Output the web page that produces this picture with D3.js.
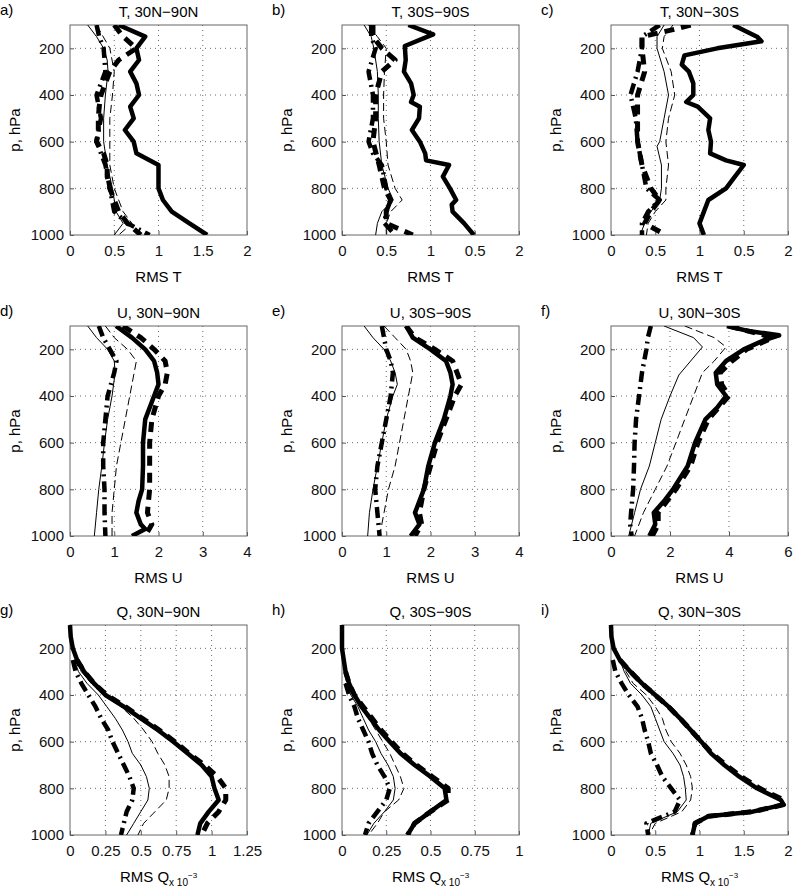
<!DOCTYPE html>
<html><head><meta charset="utf-8">
<script src="https://cdn.jsdelivr.net/npm/d3@7"></script>
<style>body{margin:0;background:#fff}svg{font-family:"Liberation Sans",Arial,sans-serif}</style>
</head><body><svg id="chart" width="797" height="890"></svg>
<script>
// pressure ticks shared by all panels
const pTicks = [200, 400, 600, 800, 1000];

// panel a: T, 30N-90N  (each series: [p, rms])
const aSolid = [[100,0.55],[150,0.85],[200,0.75],[250,0.78],[300,0.68],[350,0.75],[400,0.78],[450,0.68],[500,0.72],[550,0.62],[600,0.72],[650,0.75],[700,1.0],[750,1.0],[800,1.0],[850,1.05],[900,1.15],[950,1.35],[1000,1.55]];
const aDash = [[100,0.5],[150,0.6],[200,0.75],[250,0.55],[300,0.45],[350,0.4],[400,0.35],[450,0.33],[500,0.32],[550,0.32],[600,0.3],[650,0.38],[700,0.42],[750,0.42],[800,0.45],[850,0.5],[900,0.55],[950,0.65],[1000,0.8]];
const aDot = [[100,0.3],[150,0.33],[200,0.38],[300,0.4],[400,0.3],[500,0.35],[600,0.3],[700,0.4],[800,0.45],[900,0.5],[950,0.65],[1000,0.9]];
const aThin = [[100,0.2],[150,0.3],[200,0.38],[250,0.42],[300,0.43],[400,0.4],[500,0.38],[600,0.38],[700,0.42],[800,0.48],[900,0.52],[950,0.6],[1000,0.5]];
const aThinDash = [[100,0.3],[200,0.45],[300,0.5],[400,0.48],[500,0.45],[600,0.45],[700,0.45],[800,0.5],[900,0.6],[950,0.7],[1000,0.55]];

// panel b: T, 30S-90S
const bSolid = [[100,0.75],[140,1.03],[190,0.71],[250,0.72],[300,0.7],[350,0.78],[400,0.81],[430,0.78],[450,0.88],[500,0.87],[550,0.79],[600,0.88],[650,0.94],[680,0.95],[700,1.21],[750,1.14],[800,1.22],[850,1.29],[870,1.24],[900,1.25],[950,1.38],[1000,1.49]];
const bDash = [[100,0.35],[150,0.35],[200,0.45],[250,0.6],[300,0.45],[400,0.38],[500,0.38],[600,0.35],[700,0.42],[800,0.48],[850,0.55],[900,0.5],[950,0.5],[1000,0.8]];
const bDot = [[100,0.33],[150,0.33],[200,0.38],[300,0.3],[400,0.35],[500,0.35],[600,0.3],[650,0.35],[700,0.45],[800,0.5],[850,0.55],[900,0.5],[950,0.48],[1000,0.6]];
const bThin = [[100,0.25],[150,0.33],[200,0.36],[300,0.4],[400,0.41],[500,0.41],[600,0.42],[700,0.45],[800,0.52],[850,0.58],[900,0.45],[950,0.4],[1000,0.38]];
const bThinDash = [[100,0.3],[150,0.4],[200,0.5],[300,0.48],[400,0.47],[500,0.47],[600,0.5],[700,0.52],[800,0.6],[850,0.68],[900,0.55],[950,0.5],[1000,0.5]];

// panel c: T, 30N-30S
const cSolid = [[100,1.38],[150,1.65],[170,1.7],[200,1.2],[230,0.83],[270,0.8],[300,0.88],[350,0.93],[400,0.93],[430,0.85],[450,0.98],[500,1.12],[550,1.1],[600,1.13],[650,1.12],[680,1.3],[700,1.5],[750,1.4],[800,1.3],[850,1.1],[900,1.05],[950,1.0],[1000,1.05]];
const cDash = [[100,0.9],[120,0.7],[150,0.35],[200,0.35],[300,0.38],[400,0.3],[500,0.3],[600,0.3],[700,0.35],[800,0.45],[850,0.55],[900,0.45],[950,0.38],[1000,0.62]];
const cDot = [[100,0.55],[150,0.35],[200,0.35],[300,0.3],[400,0.22],[500,0.28],[600,0.3],[700,0.35],[800,0.4],[850,0.55],[900,0.42],[950,0.35],[1000,0.35]];
const cThin = [[100,0.6],[150,0.52],[200,0.52],[300,0.6],[400,0.65],[500,0.6],[600,0.55],[620,0.52],[700,0.57],[800,0.57],[850,0.55],[900,0.45],[950,0.38],[1000,0.33]];
const cThinDash = [[100,0.7],[150,0.6],[200,0.58],[300,0.68],[400,0.72],[500,0.65],[600,0.62],[700,0.65],[800,0.62],[850,0.62],[900,0.5],[950,0.42],[1000,0.4]];

// panel d: U, 30N-90N
const dSolid = [[100,1.04],[150,1.4],[200,1.7],[250,1.9],[300,1.97],[350,2.0],[400,1.9],[500,1.7],[600,1.65],[700,1.65],[800,1.63],[850,1.55],[900,1.5],[950,1.6],[970,1.7],[1000,1.4]];
const dDash = [[100,1.2],[150,1.6],[200,1.9],[250,2.15],[300,2.2],[350,2.15],[400,2.0],[500,1.85],[600,1.8],[700,1.8],[800,1.8],[900,1.75],[950,1.85],[1000,1.7]];
const dDot = [[100,0.65],[150,0.75],[200,0.9],[250,1.05],[300,1.0],[400,0.85],[500,0.8],[600,0.75],[700,0.75],[800,0.78],[900,0.78],[1000,0.8]];
const dThin = [[100,0.4],[150,0.6],[200,0.85],[250,1.0],[300,1.02],[400,0.95],[500,0.85],[600,0.78],[700,0.72],[800,0.65],[900,0.6],[1000,0.55]];
const dThinDash = [[100,0.8],[150,1.0],[200,1.3],[250,1.5],[300,1.45],[400,1.35],[500,1.25],[600,1.15],[700,1.05],[800,1.0],[900,0.95],[1000,0.95]];

// panel e: U, 30S-90S
const eSolid = [[100,1.45],[150,1.6],[200,2.0],[250,2.35],[300,2.45],[350,2.5],[400,2.45],[500,2.3],[600,2.1],[700,1.95],[800,1.85],[900,1.65],[950,1.75],[1000,1.55]];
const eDash = [[100,1.45],[150,1.65],[200,2.1],[250,2.5],[300,2.6],[350,2.7],[400,2.55],[500,2.35],[600,2.15],[700,2.0],[800,1.85],[900,1.75],[950,1.8],[1000,1.65]];
const eDot = [[100,0.9],[150,0.95],[200,1.0],[250,1.1],[300,1.15],[400,1.1],[500,1.0],[600,0.9],[700,0.8],[800,0.75],[900,0.8],[1000,0.85]];
const eThin = [[100,0.5],[150,0.7],[200,0.95],[250,1.1],[300,1.2],[350,1.25],[400,1.15],[500,1.0],[600,0.9],[700,0.8],[800,0.7],[900,0.62],[1000,0.58]];
const eThinDash = [[100,0.95],[150,1.2],[200,1.45],[250,1.55],[300,1.6],[400,1.5],[500,1.4],[600,1.3],[700,1.2],[800,1.05],[900,0.95],[1000,0.85]];

// panel f: U, 30N-30S
const fSolid = [[100,3.93],[120,4.6],[140,5.7],[160,5.2],[200,4.5],[250,3.9],[300,3.55],[350,3.6],[400,3.9],[450,3.6],[500,3.2],[600,2.85],[700,2.6],[800,2.1],[850,1.8],[900,1.45],[950,1.5],[1000,1.3]];
const fDash = [[100,4.0],[150,5.5],[200,4.6],[250,4.1],[300,3.7],[350,3.75],[400,4.0],[500,3.3],[600,2.95],[700,2.7],[800,2.2],[900,1.6],[950,1.6],[1000,1.4]];
const fDot = [[100,1.35],[150,1.25],[200,1.2],[300,1.05],[400,0.95],[500,0.85],[600,0.8],[700,0.78],[800,0.75],[900,0.68],[950,0.65],[1000,0.7]];
const fThin = [[100,1.8],[150,2.8],[190,3.1],[250,2.7],[310,2.3],[400,2.0],[500,1.7],[600,1.5],[700,1.3],[800,1.0],[900,0.8],[1000,0.6]];
const fThinDash = [[100,2.5],[150,3.5],[190,3.9],[250,3.5],[300,3.1],[400,2.8],[500,2.5],[600,2.2],[700,1.9],[800,1.5],[900,1.1],[1000,0.8]];

// panel g: Q, 30N-90N (x 10^-3)
const gSolid = [[100,0],[150,0.005],[200,0.02],[250,0.05],[300,0.1],[350,0.17],[400,0.25],[450,0.38],[500,0.5],[550,0.62],[600,0.73],[650,0.83],[700,0.93],[750,1.0],[800,1.02],[850,1.05],[900,0.98],[950,0.92],[1000,0.9]];
const gDash = [[250,0.05],[300,0.1],[350,0.17],[400,0.26],[450,0.39],[500,0.51],[550,0.63],[600,0.74],[650,0.84],[700,0.95],[750,1.04],[800,1.1],[850,1.1],[900,1.05],[950,0.97],[1000,0.93]];
const gDot = [[250,0.02],[300,0.04],[350,0.08],[400,0.13],[450,0.18],[500,0.22],[550,0.27],[600,0.3],[650,0.34],[700,0.38],[750,0.42],[800,0.45],[850,0.44],[900,0.4],[950,0.38],[1000,0.36]];
const gThin = [[250,0.03],[300,0.06],[350,0.12],[400,0.2],[450,0.26],[500,0.32],[550,0.37],[600,0.41],[650,0.44],[700,0.5],[750,0.54],[800,0.56],[850,0.55],[900,0.5],[950,0.45],[1000,0.4]];
const gThinDash = [[250,0.03],[300,0.08],[350,0.15],[400,0.26],[450,0.36],[500,0.45],[550,0.52],[600,0.58],[650,0.62],[700,0.67],[750,0.7],[800,0.7],[850,0.68],[900,0.6],[950,0.52],[1000,0.48]];

// panel h: Q, 30S-90S
const hSolid = [[100,0],[200,0],[250,0.01],[300,0.02],[350,0.04],[400,0.07],[450,0.11],[500,0.16],[550,0.21],[600,0.27],[650,0.33],[700,0.41],[750,0.5],[800,0.58],[850,0.59],[900,0.5],[950,0.41],[1000,0.37]];
const hDash = [[300,0.02],[350,0.04],[400,0.07],[450,0.12],[500,0.17],[550,0.22],[600,0.28],[650,0.34],[700,0.42],[750,0.51],[800,0.6],[850,0.6],[900,0.5],[950,0.41],[1000,0.37]];
const hDot = [[350,0.02],[400,0.04],[450,0.07],[500,0.09],[550,0.12],[600,0.15],[650,0.17],[700,0.2],[750,0.24],[800,0.27],[850,0.25],[900,0.2],[950,0.15],[1000,0.13]];
const hThin = [[350,0.02],[400,0.05],[450,0.09],[500,0.12],[550,0.15],[600,0.19],[650,0.22],[700,0.26],[750,0.29],[800,0.3],[850,0.29],[900,0.24],[950,0.18],[1000,0.14]];
const hThinDash = [[350,0.02],[400,0.06],[450,0.1],[500,0.15],[550,0.19],[600,0.23],[650,0.27],[700,0.3],[750,0.33],[800,0.35],[850,0.32],[900,0.24],[950,0.2],[1000,0.15]];

// panel i: Q, 30N-30S
const iSolid = [[100,0],[150,0.005],[200,0.03],[250,0.1],[300,0.22],[350,0.35],[400,0.5],[450,0.65],[500,0.78],[550,0.9],[600,1.02],[650,1.13],[700,1.28],[750,1.45],[800,1.65],[850,1.92],[870,1.95],[900,1.6],[920,1.1],[950,0.95],[1000,0.92]];
const iDash = [[250,0.1],[300,0.22],[350,0.35],[400,0.5],[450,0.65],[500,0.78],[550,0.9],[600,1.02],[650,1.14],[700,1.3],[750,1.47],[800,1.68],[850,1.95],[870,1.95],[900,1.6],[920,1.1],[950,0.95],[1000,0.92]];
const iDot = [[250,0.02],[300,0.05],[350,0.12],[400,0.2],[450,0.3],[500,0.35],[550,0.38],[600,0.42],[650,0.45],[700,0.52],[750,0.58],[800,0.68],[850,0.78],[900,0.72],[950,0.4],[1000,0.42]];
const iThin = [[250,0.1],[300,0.15],[350,0.22],[400,0.35],[450,0.45],[500,0.5],[550,0.55],[600,0.6],[650,0.7],[700,0.78],[750,0.82],[800,0.84],[850,0.85],[900,0.75],[950,0.45],[1000,0.42]];
const iThinDash = [[250,0.1],[300,0.17],[350,0.25],[400,0.4],[450,0.5],[500,0.58],[550,0.62],[600,0.68],[650,0.78],[700,0.85],[750,0.9],[800,0.92],[850,0.9],[900,0.8],[950,0.5],[1000,0.43]];

const panels = [
  {tag:"a)", title:"T, 30N\u221290N", varName:"T", xMax:2, xTicks:[0,0.5,1,1.5,2], xLabels:["0","0.5","1","1.5","2"], series:[aSolid,aDash,aDot,aThin,aThinDash]},
  {tag:"b)", title:"T, 30S\u221290S", varName:"T", xMax:2, xTicks:[0,0.5,1,1.5,2], xLabels:["0","0.5","1","0.5","2"], series:[bSolid,bDash,bDot,bThin,bThinDash]},
  {tag:"c)", title:"T, 30N\u221230S", varName:"T", xMax:2, xTicks:[0,0.5,1,1.5,2], xLabels:["0","0.5","1","0.5","2"], series:[cSolid,cDash,cDot,cThin,cThinDash]},
  {tag:"d)", title:"U, 30N\u221290N", varName:"U", xMax:4, xTicks:[0,1,2,3,4], xLabels:["0","1","2","3","4"], series:[dSolid,dDash,dDot,dThin,dThinDash]},
  {tag:"e)", title:"U, 30S\u221290S", varName:"U", xMax:4, xTicks:[0,1,2,3,4], xLabels:["0","1","2","3","4"], series:[eSolid,eDash,eDot,eThin,eThinDash]},
  {tag:"f)", title:"U, 30N\u221230S", varName:"U", xMax:6, xTicks:[0,2,4,6], xLabels:["0","2","4","6"], series:[fSolid,fDash,fDot,fThin,fThinDash]},
  {tag:"g)", title:"Q, 30N\u221290N", varName:"Q", xMax:1.25, xTicks:[0,0.25,0.5,0.75,1,1.25], xLabels:["0","0.25","0.5","0.75","1","1.25"], series:[gSolid,gDash,gDot,gThin,gThinDash]},
  {tag:"h)", title:"Q, 30S\u221290S", varName:"Q", xMax:1, xTicks:[0,0.25,0.5,0.75,1], xLabels:["0","0.25","0.5","0.75","1"], series:[hSolid,hDash,hDot,hThin,hThinDash]},
  {tag:"i)", title:"Q, 30N\u221230S", varName:"Q", xMax:2, xTicks:[0,0.5,1,1.5,2], xLabels:["0","0.5","1","1.5","2"], series:[iSolid,iDash,iDot,iThin,iThinDash]}
];

const styles = [
  {w:4.5, dash:null},
  {w:5, dash:"10,7"},
  {w:4.5, dash:"11,5,2,5"},
  {w:1, dash:null},
  {w:1, dash:"8,4"}
];

const colLeft = [70, 342, 611], rowTop = [25, 326, 625];
const W = 177, H = 210;
const FS = 15;
const svg = d3.select("#chart");

panels.forEach((P, k) => {
  const ox = colLeft[k % 3], oy = rowTop[Math.floor(k / 3)];
  const g = svg.append("g").attr("transform", `translate(${ox},${oy})`);
  const x = d3.scaleLinear().domain([0, P.xMax]).range([0, W]);
  const y = d3.scaleLinear().domain([100, 1000]).range([0, H]);

  // dotted grid
  g.selectAll(".gx").data(P.xTicks.slice(1, -1)).join("line")
    .attr("x1", d => x(d)).attr("x2", d => x(d)).attr("y1", 0).attr("y2", H)
    .attr("stroke", "#444").attr("stroke-width", 0.8).attr("stroke-dasharray", "1,4");
  g.selectAll(".gy").data(pTicks.slice(0, -1)).join("line")
    .attr("x1", 0).attr("x2", W).attr("y1", d => y(d)).attr("y2", d => y(d))
    .attr("stroke", "#444").attr("stroke-width", 0.8).attr("stroke-dasharray", "1,4");

  // axes with inward ticks
  const xa = g.append("g").attr("transform", `translate(0,${H})`)
    .call(d3.axisBottom(x).tickValues(P.xTicks).tickSize(-4).tickPadding(10)
      .tickFormat((d, i) => P.xLabels[i]));
  const ya = g.append("g")
    .call(d3.axisLeft(y).tickValues(pTicks).tickSize(-4).tickPadding(6).tickFormat(d3.format("d")));
  [xa, ya].forEach(a => {
    a.select(".domain").remove();
    a.selectAll("line").attr("stroke", "#555");
    a.selectAll("text").attr("font-size", FS).attr("fill", "#111").attr("font-family", "Liberation Sans, Arial, sans-serif");
  });

  g.append("rect").attr("width", W).attr("height", H)
    .attr("fill", "none").attr("stroke", "#666").attr("stroke-width", 1);

  const line = d3.line().x(d => x(d[1])).y(d => y(d[0]));
  const clip = "clip" + k;
  g.append("clipPath").attr("id", clip).append("rect").attr("x", -3).attr("y", 0).attr("width", W + 6).attr("height", H);
  P.series.forEach((s, j) => {
    g.append("path").datum(s).attr("d", line).attr("clip-path", `url(#${clip})`)
      .attr("fill", "none").attr("stroke", "#000")
      .attr("stroke-width", styles[j].w)
      .attr("stroke-dasharray", styles[j].dash)
      .attr("stroke-linejoin", "round");
  });

  // labels
  g.append("text").attr("x", W / 2).attr("y", -8).attr("text-anchor", "middle")
    .attr("font-size", FS).text(P.title);
  g.append("text").attr("x", -70).attr("y", -10).attr("font-size", FS).text(P.tag);
  g.append("text").attr("transform", `translate(-50,${H / 2}) rotate(-90)`)
    .attr("text-anchor", "middle").attr("font-size", FS).text("p, hPa");
  const xl = g.append("text").attr("x", W / 2).attr("y", H + 47)
    .attr("text-anchor", "middle").attr("font-size", FS).text("RMS " + P.varName);
  if (P.varName === "Q") {
    xl.append("tspan").attr("font-size", 10).attr("dy", 4).text("x 10");
    xl.append("tspan").attr("font-size", 8).attr("dy", -8).text("\u22123");
  }
});
</script></body></html>
